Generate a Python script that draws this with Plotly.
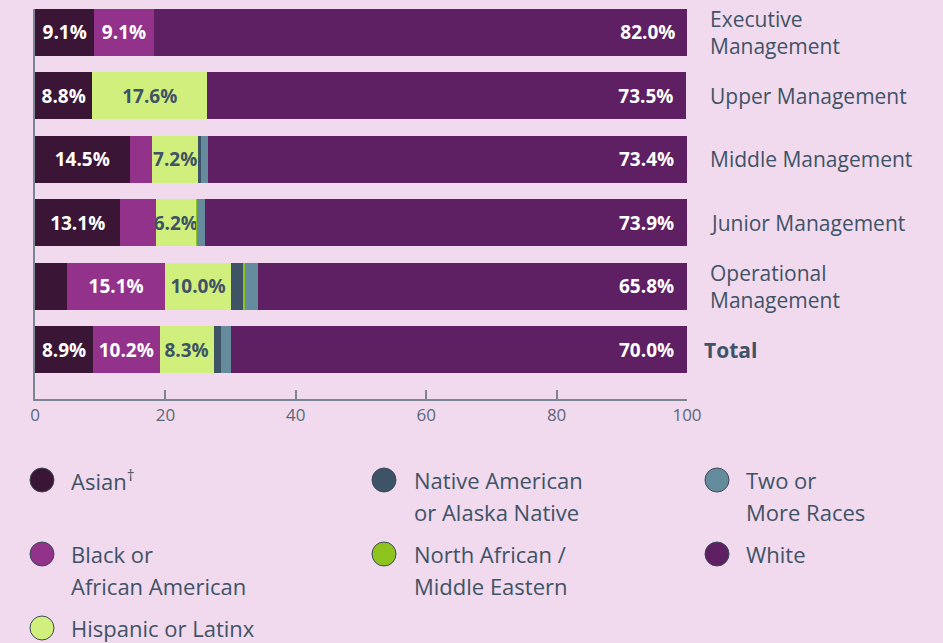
import plotly.graph_objects as go

# Data
categories = ["Executive<br>Management", "Upper Management", "Middle Management",
              "Junior Management", "Operational<br>Management", "Total"]
series_names = ["Asian<sup>†</sup>", "Black or<br>African American", "Hispanic or Latinx",
                "Native American<br>or Alaska Native", "North African /<br>Middle Eastern",
                "Two or<br>More Races", "White"]
asian = [9.1, 8.8, 14.5, 13.1, 4.9, 8.9]
black = [9.1, 0.0, 3.4, 5.4, 15.1, 10.2]
hispanic = [0.0, 17.6, 7.2, 6.2, 10.0, 8.3]
native = [0.0, 0.0, 0.3, 0.0, 2.0, 1.2]
north_african = [0.0, 0.0, 0.0, 0.2, 0.2, 0.0]
two_or_more = [0.0, 0.0, 1.2, 1.2, 2.0, 1.4]
white = [82.0, 73.5, 73.4, 73.9, 65.8, 70.0]

COLORS = ["#3a1535", "#93328a", "#d0ef7c", "#3f5366", "#8fc31f", "#658c9c", "#5e2062"]
LABEL_COLORS = ["white", "white", "#3f5366", "white", "white", "white", "white"]
BG = "#f1d9ee"
TEXT = "#3f5366"
AXIS = "#7b8593"
FONT = "Open Sans"

W, H = 943, 643
L, R, T, B = 35, 256, 9, 244
PW, PH = W - L - R, H - T - B

series = [asian, black, hispanic, native, north_african, two_or_more, white]
ypos = list(range(len(categories)))

fig = go.Figure()
for i, vals in enumerate(series):
    is_white = i == len(series) - 1
    txt = [(f"{v:.1f}%" + ("\u00a0\u00a0" if is_white else "")) if v >= 6 else "" for v in vals]
    fig.add_trace(go.Bar(
        x=vals, y=ypos, orientation="h",
        marker=dict(color=COLORS[i], line=dict(width=0)),
        text=txt, textposition="inside", textangle=0,
        insidetextanchor="end" if is_white else "middle",
        constraintext="none",
        textfont=dict(family=FONT, size=19, color=LABEL_COLORS[i], weight="bold"),
        showlegend=False, hoverinfo="skip",
    ))

# category labels on the right
for i, cat in enumerate(categories):
    bold = cat == "Total"
    fig.add_annotation(
        x=1, xref="paper", y=i, yref="y", xanchor="left", yanchor="middle",
        xshift=15 if bold else 21, text=f"<b>{cat}</b>" if bold else cat,
        showarrow=False, align="left",
        font=dict(family=FONT, size=21, color=TEXT),
    )

# legend: 3 columns, one annotation per text line
col_px = [(42, 69), (384, 412), (717, 744)]
row_px = [480, 554, 628]
order = [0, 3, 5, 1, 4, 6, 2]
for k, idx in enumerate(order):
    r, c = divmod(k, 3)
    cx, tx = col_px[c]
    cy = row_px[r]
    rad = 12
    fig.add_shape(
        type="circle", xref="paper", yref="paper",
        x0=(cx - rad - L) / PW, x1=(cx + rad - L) / PW,
        y0=(H - B - (cy + rad)) / PH, y1=(H - B - (cy - rad)) / PH,
        fillcolor=COLORS[idx], line=dict(color="#3a4a5a", width=1),
    )
    for j, line in enumerate(series_names[idx].split("<br>")):
        fig.add_annotation(
            x=(tx - L) / PW, xref="paper", y=(H - B - (cy + 32 * j)) / PH, yref="paper",
            xanchor="left", yanchor="middle", text=line, showarrow=False,
            align="left", font=dict(family=FONT, size=22, color=TEXT),
        )

fig.update_layout(
    width=W, height=H, barmode="stack", bargap=0.26,
    paper_bgcolor=BG, plot_bgcolor=BG,
    margin=dict(l=L, r=R, t=T, b=B),
    font=dict(family=FONT, color=TEXT),
    xaxis=dict(range=[0, 100], tickvals=[0, 20, 40, 60, 80, 100], ticks="inside",
               ticklen=9, tickcolor=AXIS, tickwidth=1.5, showline=True, linecolor=AXIS,
               linewidth=1.5, showgrid=False, zeroline=False,
               tickfont=dict(family=FONT, size=17, color="#5b6878")),
    yaxis=dict(range=[5.78, -0.37], showticklabels=False, showline=True, linecolor=AXIS,
               linewidth=1.5, showgrid=False, zeroline=False, ticks=""),
)

fig.write_html("out.html", config={"displayModeBar": False},
               post_script="document.body.style.margin='0';")
